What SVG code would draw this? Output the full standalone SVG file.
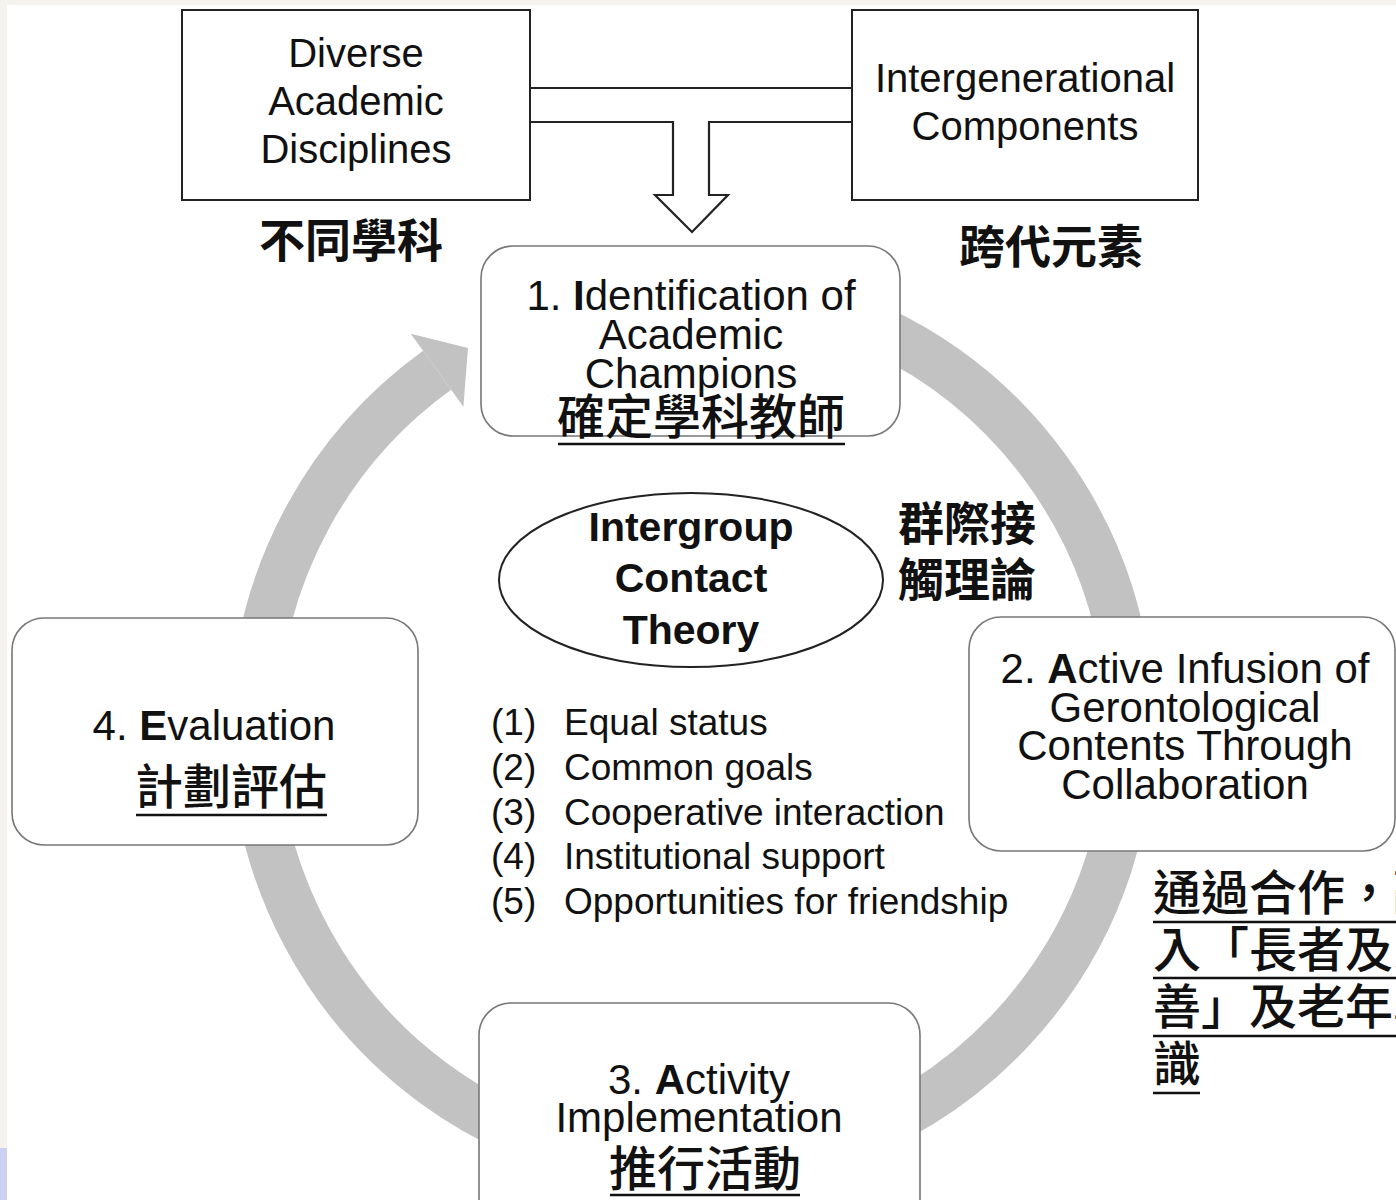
<svg xmlns="http://www.w3.org/2000/svg" width="1396" height="1200" viewBox="0 0 1396 1200">
<style>
.en{font-family:"Liberation Sans",Arial,sans-serif;fill:#111;text-anchor:middle}
.cjk{font-family:"Noto Sans CJK TC","Noto Sans CJK SC",sans-serif;fill:#111}
.mid{text-anchor:middle}
.rbox{fill:#fff;stroke:#777;stroke-width:1.6}
.sbox{fill:#fff;stroke:#222;stroke-width:2}
.ul{stroke:#111;stroke-width:2.6}
.pipe{fill:none;stroke:#222;stroke-width:2.2;stroke-linejoin:miter}
.ring{fill:none;stroke:#c2c2c2;stroke-width:48}
</style>
<rect x="0" y="0" width="1396" height="1200" fill="#fff"/>
<rect x="0" y="0" width="1396" height="5" fill="#f5f3ee"/>
<rect x="0" y="0" width="7" height="1148" fill="#f5f3ee"/>
<rect x="0" y="1148" width="7" height="52" fill="#cad2f2"/>

<g id="connectors">
  <path class="pipe" d="M530,88 H852 M530,122 H673 V195 H655 L692,232 L728,195 H709 V122 H852"/>
  <path class="ring" d="M437.1,370.3 A438,440 0 1 0 692,288"/>
  <polygon fill="#c2c2c2" points="410.8,333.8 468,348 463.4,406.8"/>
</g>

<g id="node-disciplines">
  <rect class="sbox" x="182" y="10" width="348" height="190"/>
  <text class="en" font-size="40" x="356" y="67">Diverse</text>
  <text class="en" font-size="40" x="356" y="115">Academic</text>
  <text class="en" font-size="40" x="356" y="163">Disciplines</text>
</g>
<g id="label-disciplines">
  <text class="cjk mid" font-size="46" font-weight="700" x="351" y="257">不同學科</text>
</g>

<g id="node-intergenerational">
  <rect class="sbox" x="852" y="10" width="346" height="190"/>
  <text class="en" font-size="40" x="1025" y="92">Intergenerational</text>
  <text class="en" font-size="40" x="1025" y="140">Components</text>
</g>
<g id="label-intergenerational">
  <text class="cjk mid" font-size="46" font-weight="700" x="1051" y="263">跨代元素</text>
</g>

<g id="node-step1">
  <rect class="rbox" x="481" y="246" width="419" height="190" rx="32"/>
  <text class="en" font-size="42" x="691" y="310">1. <tspan font-weight="700">I</tspan>dentification of</text>
  <text class="en" font-size="42" x="691" y="349">Academic</text>
  <text class="en" font-size="42" x="691" y="388">Champions</text>
  <text class="cjk mid" font-size="48" font-weight="500" x="701" y="434">確定學科教師</text>
  <line class="ul" x1="558" y1="444" x2="845" y2="444"/>
</g>

<g id="node-theory">
  <ellipse cx="691" cy="580" rx="192" ry="87" fill="#fff" stroke="#222" stroke-width="2"/>
  <text class="en" font-size="41" font-weight="700" x="691" y="541">Intergroup</text>
  <text class="en" font-size="41" font-weight="700" x="691" y="592">Contact</text>
  <text class="en" font-size="41" font-weight="700" x="691" y="644">Theory</text>
</g>
<g id="label-theory">
  <text class="cjk mid" font-size="46" font-weight="700" x="967" y="540">群際接</text>
  <text class="cjk mid" font-size="46" font-weight="700" x="967" y="596">觸理論</text>
</g>

<g id="list-conditions" font-family="Liberation Sans, Arial, sans-serif" font-size="37" fill="#111">
  <text x="491" y="735">(1)</text><text x="564" y="735">Equal status</text>
  <text x="491" y="780">(2)</text><text x="564" y="780">Common goals</text>
  <text x="491" y="825">(3)</text><text x="564" y="825">Cooperative interaction</text>
  <text x="491" y="869">(4)</text><text x="564" y="869">Institutional support</text>
  <text x="491" y="914">(5)</text><text x="564" y="914">Opportunities for friendship</text>
</g>

<g id="node-step2">
  <rect class="rbox" x="969" y="617" width="426" height="234" rx="32"/>
  <text class="en" font-size="42" x="1185" y="683">2. <tspan font-weight="700">A</tspan>ctive Infusion of</text>
  <text class="en" font-size="42" x="1185" y="722">Gerontological</text>
  <text class="en" font-size="42" x="1185" y="760">Contents Through</text>
  <text class="en" font-size="42" x="1185" y="799">Collaboration</text>
</g>
<g id="label-step2">
  <text class="cjk" font-size="48" font-weight="500" x="1153" y="910">通過合作，融</text>
  <line class="ul" x1="1153" y1="922" x2="1396" y2="922"/>
  <text class="cjk" font-size="48" font-weight="500" x="1153" y="967">入「長者及家</text>
  <line class="ul" x1="1153" y1="978" x2="1396" y2="978"/>
  <text class="cjk" font-size="48" font-weight="500" x="1153" y="1024">善」及老年學</text>
  <line class="ul" x1="1153" y1="1036" x2="1396" y2="1036"/>
  <text class="cjk" font-size="48" font-weight="500" x="1153" y="1081">識</text>
  <line class="ul" x1="1153" y1="1093" x2="1200" y2="1093"/>
</g>

<g id="node-step3">
  <rect class="rbox" x="479" y="1003" width="441" height="230" rx="32"/>
  <text class="en" font-size="42" x="699" y="1094">3. <tspan font-weight="700">A</tspan>ctivity</text>
  <text class="en" font-size="42" x="699" y="1132">Implementation</text>
  <text class="cjk mid" font-size="48" font-weight="500" x="705" y="1186">推行活動</text>
  <line class="ul" x1="610" y1="1195" x2="800" y2="1195"/>
</g>

<g id="node-step4">
  <rect class="rbox" x="12" y="618" width="406" height="227" rx="32"/>
  <text class="en" font-size="42" x="214" y="740">4. <tspan font-weight="700">E</tspan>valuation</text>
  <text class="cjk mid" font-size="48" font-weight="500" x="231" y="804">計劃評估</text>
  <line class="ul" x1="136" y1="815" x2="327" y2="815"/>
</g>
</svg>
